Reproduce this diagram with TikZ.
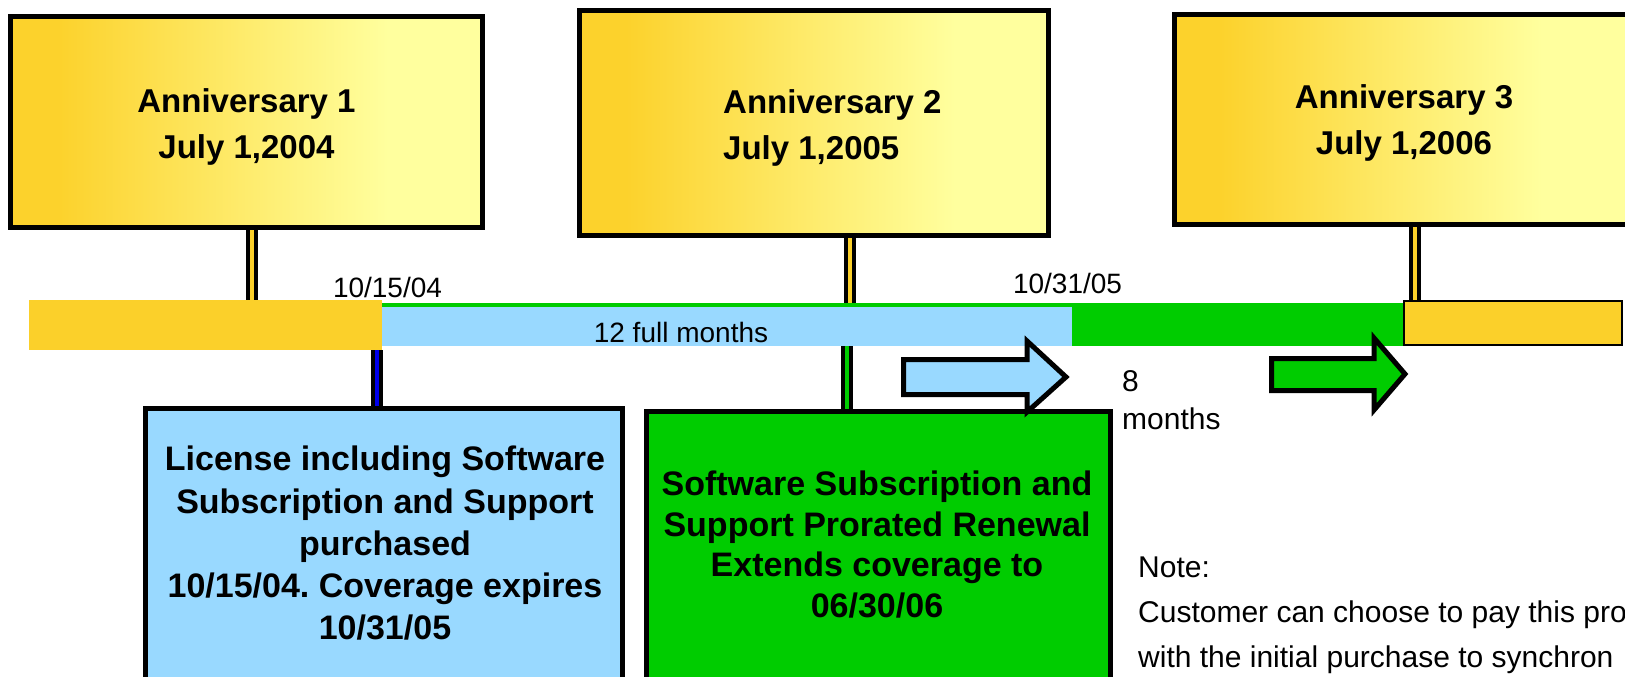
\documentclass[tikz,border=0pt]{standalone}
\usepackage{fontspec}
\setmainfont{Liberation Sans}
\frenchspacing
\definecolor{ydark}{RGB}{252,210,44}
\definecolor{ylight}{RGB}{255,255,158}
\definecolor{ybarc}{RGB}{251,208,42}
\definecolor{lblue}{RGB}{153,217,255}
\definecolor{grn}{RGB}{0,204,0}
\definecolor{cblue}{RGB}{0,0,235}
\pgfdeclarehorizontalshading{annshade}{100bp}{color(0bp)=(ydark); color(30bp)=(ydark); color(65bp)=(ylight); color(100bp)=(ylight)}
\tikzset{
  annbox/.style={draw=black, line width=5pt, shading=annshade, inner sep=0pt},
  infobox/.style={draw=black, line width=5pt, fill=#1, inner sep=0pt},
  barbox/.style={fill=#1, inner sep=0pt, outer sep=0pt},
  conn/.style={draw=black, line width=4pt, double=#1, double distance=4.5pt},
  bigtext/.style={inner sep=0pt, align=center, font=\fontsize{33}{46}\selectfont\bfseries},
  smalltext/.style={inner sep=0pt, font=\fontsize{28}{34}\selectfont},
  notetext/.style={inner sep=0pt, align=left, font=\fontsize{30}{45}\selectfont},
  arrowshape/.style={draw=black, line width=5pt, fill=#1}
}
\begin{document}
\begin{tikzpicture}[x=1pt,y=-1pt]
\useasboundingbox (0,0) rectangle (1625,677);
\clip (0,0) rectangle (1625,677);
% timeline bars
\node[barbox=ybarc, minimum width=353pt, minimum height=50pt] (ybar) at (205.5,325) {};
\node[barbox=grn, minimum width=1021pt, minimum height=43pt] (gbar) at (892.5,324.5) {};
\node[barbox=lblue, minimum width=690pt, minimum height=39pt] (bbar) at (727,326.5) {};
\node[draw=black, line width=2pt, fill=ybarc, inner sep=0pt, minimum width=218pt, minimum height=44pt] (ybar3) at (1513,323) {};
% anniversary boxes
\node[annbox, minimum width=472pt, minimum height=211pt] (a1) at (246.5,122) {};
\node[annbox, minimum width=469pt, minimum height=225pt] (a2) at (814,123) {};
\node[annbox, minimum width=459pt, minimum height=210pt] (a3) at (1404,119.5) {};
\node[bigtext, anchor=north] (a1t) at (246.5,88) {Anniversary 1\\July 1,2004};
\node[bigtext, align=left, anchor=north west] (a2t) at (723,89.3) {Anniversary 2\\July 1,2005};
\node[bigtext, anchor=north] (a3t) at (1404,84) {Anniversary 3\\July 1,2006};
% lower boxes
\node[infobox=lblue, minimum width=477pt, minimum height=311pt] (lic) at (384,564) {};
\node[infobox=grn, minimum width=464pt, minimum height=308.5pt] (ren) at (878.5,565.75) {};
\node[bigtext, anchor=north, font=\fontsize{34}{42.2}\selectfont\bfseries] (lict) at (385,446) {License including Software\\Subscription and Support\\purchased\\10/15/04. Coverage expires\\10/31/05};
\node[bigtext, anchor=north, font=\fontsize{34}{40.5}\selectfont\bfseries] (rent) at (877,471) {Software Subscription and\\Support Prorated Renewal\\Extends coverage to\\06/30/06};
% labels
\node[smalltext, anchor=base] (d1) at (387.5,297) {10/15/04};
\node[smalltext, anchor=base] (d2) at (1067.5,293) {10/31/05};
\node[smalltext, anchor=base] (m12) at (681,342) {12 full months};
\node[notetext, anchor=north west, font=\fontsize{30}{38}\selectfont] (m8) at (1122,369.9) {8\\months};
\node[notetext, anchor=north west] (note) at (1138,556.9) {Note:\\Customer can choose to pay this pro\\with the initial purchase to synchron};
% connectors
\coordinate (x1) at (252,0);
\coordinate (xb) at (377,0);
\coordinate (x2) at (850,0);
\coordinate (x2b) at (847,0);
\coordinate (x3) at (1415,0);
\draw[conn=ybarc] (a1.south -| x1) -- (ybar.north -| x1);
\draw[conn=cblue] (ybar.south -| xb) -- (lic.north -| xb);
\draw[conn=ybarc] (a2.south -| x2) -- (gbar.north -| x2);
\draw[conn=grn] (gbar.south -| x2b) -- (ren.north -| x2b);
\draw[conn=ybarc] (a3.south -| x3) -- (ybar3.north -| x3);
% block arrows
\draw[arrowshape=lblue] (903.5,359.5) -- (1027,359.5) -- (1027,341) -- (1066,377) -- (1027,412) -- (1027,394.5) -- (903.5,394.5) -- cycle;
\draw[arrowshape=grn] (1271.5,358.5) -- (1374,358.5) -- (1374,338) -- (1405,374) -- (1374,410) -- (1374,390.5) -- (1271.5,390.5) -- cycle;
\end{tikzpicture}
\end{document}
